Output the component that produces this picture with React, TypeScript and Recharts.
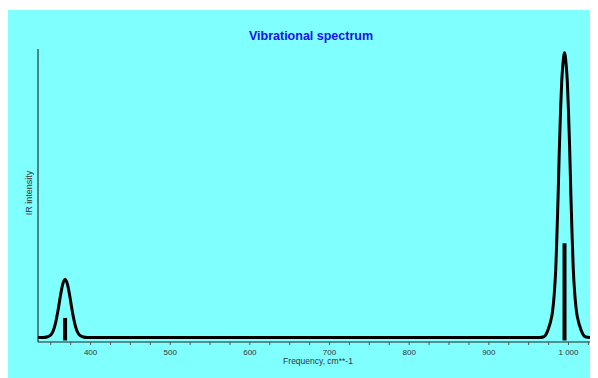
import React from 'react';
import { LineChart, Line, XAxis, YAxis, ReferenceLine } from 'recharts';

// envelope (frequency in cm**-1, relative IR intensity)
const frequencies = [
  334, 340, 346, 350, 353, 356, 359, 362, 365, 368, 371, 374, 377, 380, 383, 386, 390, 396, 402,
  500, 700, 900, 960,
  964, 968, 971, 973, 975, 977.5, 980, 982, 984, 985.5, 987, 988.5, 990, 991.5, 993, 995,
  997, 998.5, 1000, 1001.5, 1003, 1004.5, 1006, 1008, 1010, 1012.5, 1015, 1017, 1019, 1022, 1027,
];
const intensities = [
  0, 0, 0.003, 0.009, 0.023, 0.051, 0.093, 0.144, 0.187, 0.204, 0.187, 0.144, 0.093, 0.051, 0.023, 0.009, 0.003, 0, 0,
  0, 0, 0, 0,
  0, 0.002, 0.008, 0.018, 0.033, 0.056, 0.092, 0.149, 0.24, 0.36, 0.5, 0.66, 0.794, 0.9, 0.96, 1,
  0.96, 0.9, 0.794, 0.66, 0.5, 0.36, 0.24, 0.149, 0.092, 0.056, 0.033, 0.018, 0.008, 0.002, 0,
];

// computed line positions (sticks)
const stickFreqs = [368, 995];
const stickHeights = [0.069, 0.331];

const xTicks = [350, 375, 400, 425, 450, 475, 500, 525, 550, 575, 600, 625, 650, 675, 700, 725, 750, 775, 800, 825, 850, 875, 900, 925, 950, 975, 1000, 1025];
const labelledTicks = [400, 500, 600, 700, 800, 900, 1000];

const data = frequencies.map((f, i) => ({ freq: f, ir: intensities[i] }));

const fmt = (v: number) => (v >= 1000 ? `${Math.floor(v / 1000)} ${String(v % 1000).padStart(3, '0')}` : String(v));

const XTick = (props: any) => {
  const { x, y, payload } = props;
  if (!labelledTicks.includes(payload.value)) return <g />;
  return (
    <text x={x} y={y + 7.5} textAnchor="middle" fontSize={8} fill="#333" fontFamily="Liberation Sans, Arial, sans-serif">
      {fmt(payload.value)}
    </text>
  );
};

export default function App() {
  return (
    <div style={{ paddingTop: 2 }}>
      <div style={{ width: 590, height: 368, background: '#80ffff', position: 'relative' }}>
        <LineChart width={590} height={368} data={data} margin={{ top: 39, right: 8, bottom: 10, left: 0 }}>
          <XAxis
            dataKey="freq"
            type="number"
            domain={[334, 1027]}
            allowDataOverflow
            ticks={xTicks}
            interval={0}
            tickSize={3}
            tickLine={{ stroke: '#555' }}
            axisLine={{ stroke: '#222' }}
            tick={<XTick />}
            height={26}
          />
          <YAxis
            type="number"
            domain={[-0.0155, 1.013]}
            allowDataOverflow
            tick={false}
            tickLine={false}
            axisLine={{ stroke: '#111' }}
            width={30}
          />
          {stickFreqs.map((f, i) => (
            <ReferenceLine
              key={f}
              segment={[{ x: f, y: -0.01 }, { x: f, y: stickHeights[i] }]}
              stroke="#000"
              strokeWidth={4}
            />
          ))}
          <Line
            type="monotone"
            dataKey="ir"
            stroke="#000"
            strokeWidth={3}
            dot={false}
            strokeLinecap="round"
            strokeLinejoin="round"
            isAnimationActive={false}
          />
          <text x={303} y={30} textAnchor="middle" fontSize={12.5} fontWeight="bold" fill="#1414e6" fontFamily="Liberation Sans, Arial, sans-serif">
            Vibrational spectrum
          </text>
          <text x={310} y={354} textAnchor="middle" fontSize={8.5} fill="#333" fontFamily="Liberation Sans, Arial, sans-serif">
            Frequency, cm**-1
          </text>
          <text
            x={21}
            y={183}
            textAnchor="middle"
            dominantBaseline="central"
            transform="rotate(-90 21 183)"
            fontSize={9}
            fill="#333"
            fontFamily="Liberation Sans, Arial, sans-serif"
          >
            IR intensity
          </text>
        </LineChart>
      </div>
    </div>
  );
}
